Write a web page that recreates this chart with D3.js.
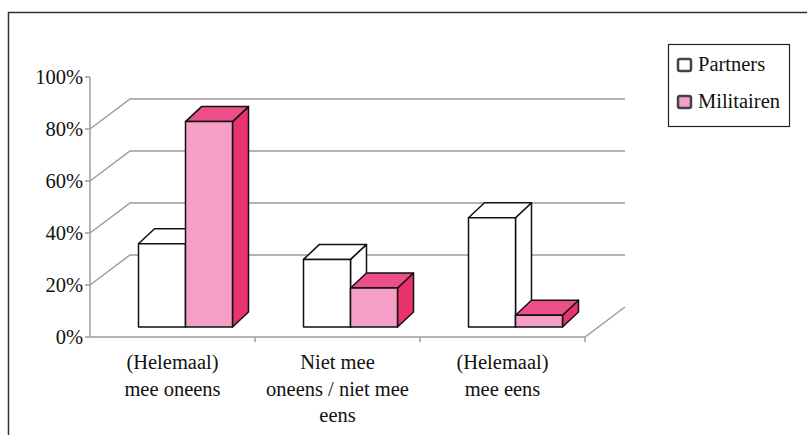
<!DOCTYPE html>
<html><head><meta charset="utf-8">
<script src="https://cdn.jsdelivr.net/npm/d3@7/dist/d3.min.js"></script>
<style>body{margin:0;background:#fff}svg{display:block}</style>
</head><body>
<svg id="c" width="807" height="435"></svg>
<script>
const categories = [["(Helemaal)","mee oneens"],["Niet mee","oneens / niet mee","eens"],["(Helemaal)","mee eens"]];
const seriesNames = ["Partners","Militairen"];
const partners = [32, 26, 42];
const militairen = [79, 15, 4.5];
const yTicks = [0,20,40,60,80,100];
const gridVals = [20,40,60,80];

const FONT = '"Liberation Serif"';
const FS = "20.5px";
const svg = d3.select("#c");
const W = 807, H = 435;

svg.append("line").attr("x1",8).attr("x2",W).attr("y1",12.5).attr("y2",12.5).attr("stroke","#333").attr("stroke-width",1.5);
svg.append("line").attr("x1",8.5).attr("x2",8.5).attr("y1",12).attr("y2",H).attr("stroke","#333").attr("stroke-width",1.5);

const x0 = d3.scaleBand().domain(d3.range(categories.length)).range([90,585]);
const y = d3.scaleLinear().domain([0,100]).range([337,77]);
const depth = {dx:40, dy:-30};
const grid = "#9c9c9c";

const g = svg.append("g");
gridVals.forEach(v=>{
  const yf = y(v), yb = y(v)+depth.dy;
  g.append("path").attr("d",`M90,${yf}L${90+depth.dx},${yb}L${585+depth.dx},${yb}`)
   .attr("fill","none").attr("stroke",grid).attr("stroke-width",1.5);
});
g.append("path").attr("d",`M90,${y(0)}L585,${y(0)}L${585+depth.dx},${y(0)+depth.dy}`)
  .attr("fill","none").attr("stroke",grid).attr("stroke-width",1.5);
g.append("line").attr("x1",90).attr("x2",90).attr("y1",y(100)).attr("y2",y(0)).attr("stroke",grid).attr("stroke-width",1.5);
yTicks.forEach(v=>{
  g.append("line").attr("x1",85).attr("x2",90).attr("y1",y(v)).attr("y2",y(v)).attr("stroke",grid).attr("stroke-width",1.5);
  g.append("text").attr("x",83).attr("y",y(v)+7).attr("text-anchor","end")
   .style("font-family",FONT).style("font-size",FS).attr("fill","#111").text(v+"%");
});
d3.range(1,categories.length+1).forEach(i=>{
  const xx = x0.range()[0]+x0.step()*i;
  g.append("line").attr("x1",xx).attr("x2",xx).attr("y1",y(0)).attr("y2",y(0)+5).attr("stroke",grid).attr("stroke-width",1.5);
});
categories.forEach((lines,i)=>{
  const cx = x0(i)+x0.bandwidth()/2;
  lines.forEach((t,j)=>{
    g.append("text").attr("x",cx).attr("y",369+j*26.5).attr("text-anchor","middle")
     .style("font-family",FONT).style("font-size",FS).attr("fill","#111").text(t);
  });
});

const groupW = 94;
const x1 = d3.scaleBand().domain(seriesNames).range([0,groupW]);
const off = {dx:13, dy:-10};
const bd = {dx:16, dy:-15};
const colors = {
  "Partners":{front:"#ffffff", top:"#ffffff", side:"#ffffff"},
  "Militairen":{front:"#f59fc6", top:"#ec4f8a", side:"#e8336d"}
};
const data = [partners, militairen];
const bars = svg.append("g").attr("stroke","#111").attr("stroke-width",1.5).attr("stroke-linejoin","round");
categories.forEach((c,i)=>{
  seriesNames.forEach((s,k)=>{
    const v = data[k][i];
    const xl = x0(i) + (x0.bandwidth()-groupW)/2 + x1(s) + off.dx;
    const xr = xl + x1.bandwidth();
    const yb = y(0) + off.dy, yt = y(v) + off.dy;
    const col = colors[s];
    bars.append("path").attr("d",`M${xr},${yb}L${xr+bd.dx},${yb+bd.dy}L${xr+bd.dx},${yt+bd.dy}L${xr},${yt}Z`).attr("fill",col.side);
    bars.append("path").attr("d",`M${xl},${yt}L${xl+bd.dx},${yt+bd.dy}L${xr+bd.dx},${yt+bd.dy}L${xr},${yt}Z`).attr("fill",col.top);
    bars.append("rect").attr("x",xl).attr("y",yt).attr("width",xr-xl).attr("height",yb-yt).attr("fill",col.front);
  });
});

const lg = svg.append("g");
lg.append("rect").attr("x",668.5).attr("y",44.5).attr("width",121).attr("height",82).attr("fill","#fff").attr("stroke","#222").attr("stroke-width",1.2);
const legFill = ["#ffffff","#f59fc6"];
seriesNames.forEach((s,k)=>{
  const yy = 59 + k*37;
  lg.append("rect").attr("x",678).attr("y",yy).attr("width",13).attr("height",12).attr("rx",2)
    .attr("fill",legFill[k]).attr("stroke","#444").attr("stroke-width",2.5);
  lg.append("text").attr("x",698).attr("y",yy+12).style("font-family",FONT).style("font-size",FS).attr("fill","#111").text(s);
});
</script>
</body></html>
